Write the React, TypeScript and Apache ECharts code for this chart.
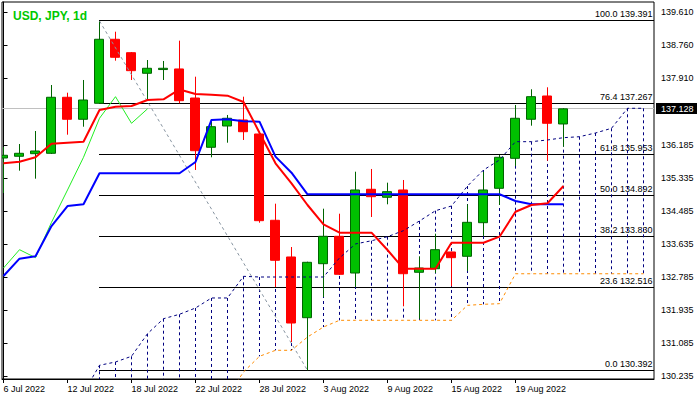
import React, { useEffect, useRef } from "react";
import * as echarts from "echarts";

// ---- data ----
const dates = [
  "6 Jul 2022", "7 Jul 2022", "8 Jul 2022", "11 Jul 2022", "12 Jul 2022", "13 Jul 2022",
  "14 Jul 2022", "15 Jul 2022", "18 Jul 2022", "19 Jul 2022", "20 Jul 2022", "21 Jul 2022",
  "22 Jul 2022", "25 Jul 2022", "26 Jul 2022", "27 Jul 2022", "28 Jul 2022", "29 Jul 2022",
  "1 Aug 2022", "2 Aug 2022", "3 Aug 2022", "4 Aug 2022", "5 Aug 2022", "8 Aug 2022",
  "9 Aug 2022", "10 Aug 2022", "11 Aug 2022", "12 Aug 2022", "15 Aug 2022", "16 Aug 2022",
  "17 Aug 2022", "18 Aug 2022", "19 Aug 2022", "22 Aug 2022", "23 Aug 2022", "24 Aug 2022",
];

const opens = [
  135.862, 135.906, 135.973, 135.983, 137.426, 136.859, 137.271, 138.92, 138.574, 138.044,
  138.14, 138.155, 137.407, 136.138, 136.686, 136.841, 136.48, 134.257, 133.312, 131.748,
  133.139, 133.845, 132.899, 135.056, 134.85, 135.038, 132.918, 133.01, 133.441, 133.33,
  134.195, 135.081, 135.854, 136.859, 137.459, 136.738,
];
const closes = [
  135.932, 135.983, 136.042, 137.426, 136.859, 137.356, 138.92, 138.456, 138.111, 138.173,
  138.173, 137.338, 136.05, 136.668, 136.885, 136.539, 134.247, 133.227, 131.611, 133.175,
  133.845, 132.866, 135.038, 134.865, 134.994, 132.881, 133.028, 133.5, 133.294, 134.205,
  135.038, 135.88, 136.885, 137.441, 136.756, 137.128,
];
const lows = [
  134.96, 135.535, 135.329, 135.965, 136.462, 136.668, 137.253, 138.368, 137.871, 137.374,
  137.871, 137.271, 135.553, 135.88, 136.256, 136.326, 134.195, 132.539, 131.122, 130.392,
  132.281, 132.85, 132.539, 134.342, 134.669, 132.042, 131.722, 132.899, 132.557, 132.951,
  133.853, 134.651, 135.656, 136.694, 135.792, 136.153,
];
const highs = [
  136.145, 136.222, 136.557, 137.742, 137.544, 137.871, 139.391, 139.115, 138.592, 138.386,
  138.361, 138.884, 137.956, 136.859, 136.97, 137.441, 136.48, 134.685, 133.569, 133.19,
  134.556, 134.427, 135.509, 135.579, 135.226, 135.295, 133.33, 133.912, 133.45, 134.669,
  135.509, 135.94, 137.227, 137.632, 137.683, 137.142,
];

const tenkan = [
  135.725, 135.767, 135.88, 136.23, 136.256, 136.282, 137.098, 137.183, 137.201, 137.356,
  137.374, 137.627, 137.51, 137.493, 137.467, 137.305, 136.514, 135.725, 135.21, 134.651,
  134.154, 133.938, 133.938, 133.938, 133.492, 133.01, 133.01, 133.01, 133.68, 133.68,
  133.68, 133.835, 134.478, 134.651, 134.695, 135.14,
];
const kijun = [
  132.822, 133.268, 133.33, 134.11, 134.625, 134.669, 135.468, 135.468, 135.468, 135.468,
  135.468, 135.468, 135.759, 136.841, 136.859, 136.81, 136.797, 135.896, 135.483, 134.927,
  134.927, 134.927, 134.927, 134.927, 134.927, 134.927, 134.927, 134.927, 134.927, 134.927,
  134.927, 134.927, 134.755, 134.669, 134.669, 134.669,
];

// Senkou spans, first value belongs to bar index spanStart
const spanStart = 5;
const spanA = [
  129.81, 130.522, 130.607, 130.754, 131.336, 131.722, 131.836, 131.998, 132.256, 132.256,
  132.814, 132.796, 132.796, 132.796, 132.796, 132.796, 133.288, 133.648, 133.73, 133.835,
  133.99, 134.24, 134.504, 134.626, 135.14, 135.552, 135.81, 136.282, 136.282, 136.326,
  136.385, 136.41, 136.506, 136.627, 137.142, 137.142,
];
const spanB = [
  129.6, 129.6, 129.6, 129.6, 129.6, 129.6, 129.6, 129.6, 129.6, 129.72,
  130.35, 130.754, 130.908, 130.908, 131.251, 131.508, 131.681, 131.681, 131.681, 131.681,
  131.681, 131.681, 131.681, 131.681, 132.067, 132.093, 132.109, 132.88, 132.88, 132.88,
  132.88, 132.88, 132.88, 132.88, 132.88, 132.88,
];
const chikouShift = 26;

const fibRatios = ["0.0", "23.6", "38.2", "50.0", "61.8", "76.4", "100.0"];
const fibPrices = [130.392, 132.516, 133.83, 134.892, 135.953, 137.267, 139.391];
const fibHighIndex = 6;
const fibLowIndex = 19;

const priceTicks = [130.235, 131.085, 131.935, 132.785, 133.635, 134.485, 135.335, 136.185, 137.91, 138.76, 139.61];
const dateTicks = [0, 4, 8, 12, 16, 20, 24, 28, 32];
const lastPrice = 137.128;
const title = "USD, JPY, 1d";

export default function App() {
  const ref = useRef<HTMLDivElement>(null);

  useEffect(() => {
    if (!ref.current) return;
    const chart = echarts.init(ref.current, null, { renderer: "svg" });
    const font = "Liberation Sans";
    const snap = (v: number) => Math.floor(v) + 0.5;

    const candleData = dates.map((_, i) => [i, opens[i], closes[i], lows[i], highs[i]]);
    const spanAData = spanA.map((v, i) => [spanStart + i, v]);
    const spanBData = spanB.map((v, i) => [spanStart + i, v]);
    const kumoData = spanA.map((v, i) => [spanStart + i, v, spanB[i]]);
    const chikouData = closes.slice(chikouShift).map((c, i) => [i, c]);

    const option: any = {
      animation: false,
      backgroundColor: "#ffffff",
      textStyle: { fontFamily: font },
      grid: { left: 2, right: 43, top: 2, bottom: 18, show: true, borderColor: "#000", borderWidth: 1 },
      xAxis: {
        type: "value",
        min: -0.09375,
        max: 40.65625,
        axisLine: { show: true, lineStyle: { color: "#000", width: 1 } },
        splitLine: { show: false },
        axisTick: { show: true, customValues: dateTicks, length: 4, lineStyle: { color: "#000" } },
        axisLabel: {
          customValues: dateTicks,
          formatter: (v: number) => dates[Math.round(v)] ?? "",
          align: "left",
          margin: 5,
          color: "#000",
          fontSize: 9,
          fontFamily: font,
        },
      },
      yAxis: {
        type: "value",
        position: "right",
        min: 130.169,
        max: 139.88,
        scale: true,
        axisLine: { show: true, lineStyle: { color: "#000", width: 1 } },
        splitLine: { show: false },
        axisTick: { show: true, customValues: priceTicks, length: 4, lineStyle: { color: "#000" } },
        axisLabel: {
          customValues: priceTicks,
          formatter: (v: number) => v.toFixed(3),
          margin: 7,
          color: "#000",
          fontSize: 9,
          fontFamily: font,
          padding: [3, 0, 0, 0],
        },
      },
      graphic: [
        {
          type: "text",
          left: 13,
          top: 10,
          style: { text: title, fill: "#00c800", font: `bold 12px "${font}"` },
        },
      ],
      series: [
        {
          name: "last",
          type: "custom",
          clip: false,
          data: [[closes.length - 1, lastPrice]],
          encode: { x: 0, y: 1 },
          renderItem: (params: any, api: any) => {
            const cs = params.coordSys;
            const y = snap(api.coord([0, api.value(1)])[1]);
            const xr = cs.x + cs.width;
            return {
              type: "group",
              children: [
                { type: "line", shape: { x1: cs.x, y1: y, x2: xr, y2: y }, style: { stroke: "#c0c0c0", lineWidth: 1 } },
                { type: "rect", shape: { x: xr + 2, y: y - 5.5, width: 50, height: 11 }, style: { fill: "#000" } },
                {
                  type: "text",
                  x: xr + 7,
                  y: y + 0.5,
                  style: { text: (api.value(1) as number).toFixed(3), fill: "#fff", font: `9px "${font}"`, align: "left", verticalAlign: "middle" },
                },
              ],
            };
          },
        },
        {
          name: "fibo",
          type: "custom",
          clip: false,
          data: fibPrices.map((p, i) => [fibHighIndex, p, i]),
          encode: { x: 0, y: 1 },
          renderItem: (params: any, api: any) => {
            const cs = params.coordSys;
            const p = api.value(1) as number;
            const s = api.coord([api.value(0), p]);
            const y = snap(s[1]);
            const xr = cs.x + cs.width;
            return {
              type: "group",
              children: [
                { type: "line", shape: { x1: snap(s[0]) - 0.5, y1: y, x2: xr, y2: y }, style: { stroke: "#000", lineWidth: 1 } },
                {
                  type: "text",
                  x: xr - 1.5,
                  y: y - 6.4,
                  style: {
                    text: `${fibRatios[params.dataIndex]} ${p.toFixed(3)}`,
                    fill: "#000",
                    font: `9px "${font}"`,
                    align: "right",
                    verticalAlign: "middle",
                  },
                },
              ],
            };
          },
        },
        {
          name: "fiboTrend",
          type: "line",
          data: [
            [fibHighIndex, fibPrices[fibPrices.length - 1]],
            [fibLowIndex, fibPrices[0]],
          ],
          symbol: "none",
          lineStyle: { color: "#8794a0", width: 1, type: [3, 3] },
        },
        {
          name: "kumo",
          type: "custom",
          clip: true,
          data: kumoData,
          encode: { x: 0, y: [1, 2] },
          renderItem: (params: any, api: any) => {
            const a = api.coord([api.value(0), api.value(1)]);
            const b = api.coord([api.value(0), api.value(2)]);
            const x = snap(a[0]);
            return {
              type: "line",
              shape: { x1: x, y1: a[1], x2: x, y2: b[1] },
              style: { stroke: "#000080", lineWidth: 1, lineDash: [3, 3] },
            };
          },
        },
        {
          name: "spanA",
          type: "line",
          data: spanAData,
          symbol: "none",
          lineStyle: { color: "#000080", width: 1, type: [3, 3] },
        },
        {
          name: "spanB",
          type: "line",
          data: spanBData,
          symbol: "none",
          lineStyle: { color: "#ff8c00", width: 1, type: [3, 3] },
        },
        {
          name: "candles",
          type: "custom",
          clip: true,
          data: candleData,
          encode: { x: 0, y: [1, 2, 3, 4] },
          renderItem: (params: any, api: any) => {
            const k = api.value(0);
            const o = api.value(1) as number;
            const c = api.value(2) as number;
            const pO = api.coord([k, o]);
            const pC = api.coord([k, c]);
            const pL = api.coord([k, api.value(3)]);
            const pH = api.coord([k, api.value(4)]);
            const x = snap(pO[0]);
            const up = c >= o;
            const top = Math.min(pO[1], pC[1]);
            const bot = Math.max(pO[1], pC[1]);
            const stroke = up ? "#006400" : "#ff0000";
            const fill = up ? "#00c000" : "#ff0000";
            return {
              type: "group",
              children: [
                { type: "line", shape: { x1: x, y1: pH[1], x2: x, y2: pL[1] }, style: { stroke, lineWidth: 1 } },
                {
                  type: "rect",
                  shape: { x: x - 5, y: top, width: 9, height: Math.max(bot - top, 1) },
                  style: { fill, stroke, lineWidth: 1 },
                },
              ],
            };
          },
        },
        {
          name: "chikou",
          type: "line",
          data: chikouData,
          symbol: "none",
          lineStyle: { color: "#22ee22", width: 1 },
        },
        {
          name: "kijun",
          type: "line",
          data: kijun.map((v, i) => [i, v]),
          symbol: "none",
          lineStyle: { color: "#0000ff", width: 2 },
        },
        {
          name: "tenkan",
          type: "line",
          data: tenkan.map((v, i) => [i, v]),
          symbol: "none",
          lineStyle: { color: "#ff0000", width: 2 },
        },
      ],
    };

    chart.setOption(option);
    return () => chart.dispose();
  }, []);

  return (
    <div
      ref={ref}
      style={{ position: "fixed", left: 0, top: 0, width: 697, height: 397, background: "#fff" }}
    />
  );
}
